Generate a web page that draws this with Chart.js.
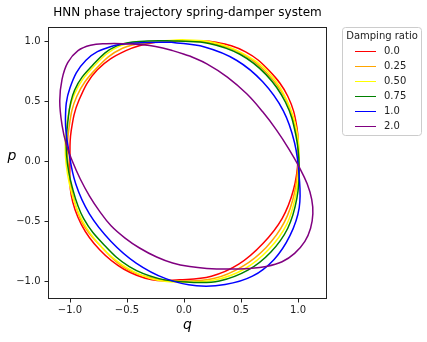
<!DOCTYPE html>
<html>
<head>
<meta charset="utf-8">
<script src="https://cdn.jsdelivr.net/npm/chart.js@4.4.0/dist/chart.umd.min.js"></script>
<style>
  html, body { margin: 0; padding: 0; background: #fff; }
</style>
</head>
<body>
<canvas id="grafico" width="427" height="342"></canvas>
<script>
// datos (q = posicion, p = momento), cada curva empieza arriba
const ratios = ['0.0', '0.25', '0.50', '0.75', '1.0', '2.0'];
const colores = ['red', 'orange', 'yellow', 'green', 'blue', 'purple'];
const qTicks = [-1.0, -0.5, 0.0, 0.5, 1.0];
const pTicks = [-1.0, -0.5, 0.0, 0.5, 1.0];

const q00 = [0.03, 0.28, 0.54, 0.75, 0.91, 0.99, 1.00, 0.96, 0.86, 0.69, 0.48, 0.24, -0.04, -0.28, -0.53, -0.74, -0.90, -0.99, -1.00, -0.99, -0.92, -0.76, -0.51, -0.25, 0.03];
const p00 = [1.00, 0.99, 0.91, 0.75, 0.54, 0.28, 0.01, -0.24, -0.48, -0.69, -0.86, -0.96, -0.99, -0.99, -0.90, -0.74, -0.53, -0.28, 0.02, 0.25, 0.51, 0.76, 0.92, 0.99, 1.00];

const q025 = [0.01, 0.26, 0.52, 0.73, 0.89, 0.98, 1.00, 0.97, 0.88, 0.72, 0.51, 0.26, -0.01, -0.26, -0.52, -0.72, -0.89, -0.98, -1.02, -1.01, -0.94, -0.77, -0.54, -0.27, 0.01];
const p025 = [1.00, 0.98, 0.89, 0.73, 0.52, 0.26, 0.01, -0.26, -0.51, -0.72, -0.88, -0.98, -1.00, -0.98, -0.89, -0.72, -0.52, -0.26, 0.02, 0.27, 0.54, 0.77, 0.94, 0.99, 1.00];

const q050 = [-0.02, 0.25, 0.51, 0.74, 0.90, 0.99, 1.01, 0.98, 0.90, 0.74, 0.53, 0.28, 0.02, -0.25, -0.50, -0.72, -0.89, -0.99, -1.04, -1.03, -0.96, -0.79, -0.56, -0.29, -0.02];
const p050 = [1.01, 0.99, 0.90, 0.74, 0.51, 0.25, -0.02, -0.28, -0.53, -0.74, -0.90, -0.99, -1.01, -0.99, -0.89, -0.72, -0.50, -0.25, 0.04, 0.29, 0.56, 0.79, 0.96, 0.995, 1.01];

const q075 = [-0.05, 0.22, 0.49, 0.72, 0.89, 0.98, 1.01, 0.99, 0.91, 0.76, 0.56, 0.31, 0.05, -0.22, -0.48, -0.70, -0.88, -0.98, -1.03, -1.02, -0.96, -0.80, -0.59, -0.32, -0.05];
const p075 = [1.00, 0.98, 0.89, 0.72, 0.49, 0.22, -0.05, -0.31, -0.56, -0.76, -0.91, -1.00, -1.01, -0.98, -0.88, -0.70, -0.48, -0.22, 0.05, 0.32, 0.59, 0.80, 0.96, 1.00, 1.00];

const q10 = [-0.11, 0.18, 0.46, 0.69, 0.87, 0.97, 1.01, 1.01, 0.93, 0.79, 0.60, 0.36, 0.11, -0.16, -0.42, -0.64, -0.83, -0.95, -1.01, -1.04, -1.00, -0.86, -0.64, -0.38, -0.11];
const p10 = [0.99, 0.95, 0.84, 0.66, 0.42, 0.15, -0.13, -0.39, -0.62, -0.82, -0.96, -1.03, -1.04, -0.98, -0.85, -0.67, -0.44, -0.19, 0.08, 0.35, 0.61, 0.84, 0.955, 0.985, 0.99];

const q20 = [0.05, 0.20, 0.38, 0.55, 0.69, 0.81, 0.92, 1.01, 1.08, 1.12, 1.13, 1.11, 1.06, 0.97, 0.86, 0.72, 0.58, 0.38, 0.20, 0.05, -0.10, -0.24, -0.39, -0.52, -0.64, -0.74, -0.83, -0.91, -0.98, -1.03, -1.07, -1.09, -1.07, -1.02, -0.93, -0.82, -0.68, -0.53, -0.38, -0.25, -0.10, 0.05];
const p20 = [0.875, 0.81, 0.70, 0.56, 0.41, 0.26, 0.10, -0.05, -0.19, -0.32, -0.44, -0.56, -0.67, -0.77, -0.84, -0.88, -0.895, -0.90, -0.895, -0.88, -0.85, -0.80, -0.725, -0.64, -0.54, -0.42, -0.29, -0.15, 0.00, 0.13, 0.30, 0.50, 0.68, 0.82, 0.92, 0.965, 0.978, 0.978, 0.97, 0.955, 0.92, 0.875];

const series = [[q00, p00], [q025, p025], [q050, p050], [q075, p075], [q10, p10], [q20, p20]];

const fmt = v => v.toFixed(1).replace('-', '\u2212'); // signo menos como matplotlib
const fuente = 'DejaVu Sans';
Chart.defaults.font.family = fuente;

// marco del grafico, etiqueta p y leyenda
const extras = {
  id: 'extras',
  afterDraw(chart) {
    const { ctx, chartArea: a } = chart;
    ctx.save();
    ctx.strokeStyle = '#222';
    ctx.lineWidth = 1;
    ctx.strokeRect(Math.round(a.left) + 0.5, Math.round(a.top) + 0.5,
      Math.round(a.right - a.left) - 1, Math.round(a.bottom - a.top) - 1);

    ctx.fillStyle = '#000';
    ctx.font = 'italic 14px "' + fuente + '"';
    ctx.textAlign = 'center';
    ctx.textBaseline = 'middle';
    ctx.fillText('p', 12, 156);

    // leyenda
    const lx = 342.5, ly = 27.5, lw = 79, lh = 108;
    ctx.beginPath();
    ctx.roundRect(lx, ly, lw, lh, 3);
    ctx.fillStyle = 'rgba(255,255,255,0.8)';
    ctx.fill();
    ctx.strokeStyle = '#cccccc';
    ctx.stroke();
    ctx.font = '10px "' + fuente + '"';
    ctx.fillStyle = '#222';
    ctx.fillText('Damping ratio', lx + lw / 2, 36);
    chart.data.datasets.forEach((ds, i) => {
      const y = 51 + i * 15;
      ctx.beginPath();
      ctx.moveTo(355, y + 0.5);
      ctx.lineTo(376, y + 0.5);
      ctx.strokeStyle = ds.borderColor;
      ctx.lineWidth = 1;
      ctx.stroke();
      ctx.textAlign = 'left';
      ctx.fillStyle = '#222';
      ctx.fillText(ds.label, 384, y);
    });
    ctx.restore();
  }
};

const datasets = series.map(([q, p], i) => ({
  label: ratios[i],
  data: q.map((v, k) => ({ x: v, y: p[k] })),
  showLine: true,
  borderColor: colores[i],
  backgroundColor: colores[i],
  borderWidth: 1.5,
  pointRadius: 0,
  tension: 0.4,
  fill: false,
  order: series.length - i
}));

new Chart(document.getElementById('grafico'), {
  type: 'scatter',
  data: { datasets },
  options: {
    responsive: false,
    animation: false,
    devicePixelRatio: 1,
    layout: { padding: { left: 0, right: 100, top: 0, bottom: 0 } },
    plugins: {
      legend: { display: false },
      tooltip: { enabled: false },
      title: {
        display: true,
        text: 'HNN phase trajectory spring-damper system',
        fullSize: false,
        color: '#000',
        font: { size: 12, weight: 'normal' },
        padding: { top: 6, bottom: 6.6 }
      }
    },
    scales: {
      x: {
        type: 'linear',
        min: -1.193,
        max: 1.254,
        afterBuildTicks: s => { s.ticks = qTicks.map(v => ({ value: v })); },
        afterFit: s => { s.height = 43; },
        grid: { drawOnChartArea: false, drawTicks: true, tickLength: 3.5, tickColor: '#222' },
        border: { display: false },
        ticks: { color: '#222', font: { size: 10 }, padding: 2, maxRotation: 0, autoSkip: false, callback: v => fmt(v) },
        title: { display: true, text: 'q', color: '#000', font: { size: 14, style: 'italic' }, padding: { top: 0, bottom: 8.6 } }
      },
      y: {
        type: 'linear',
        min: -1.15,
        max: 1.117,
        afterBuildTicks: s => { s.ticks = pTicks.map(v => ({ value: v })); },
        afterFit: s => { s.width = 48; },
        grid: { drawOnChartArea: false, drawTicks: true, tickLength: 3.5, tickColor: '#222' },
        border: { display: false },
        ticks: { color: '#222', font: { size: 10 }, padding: 4, autoSkip: false, callback: v => fmt(v) }
      }
    }
  },
  plugins: [extras]
});
</script>
</body>
</html>
